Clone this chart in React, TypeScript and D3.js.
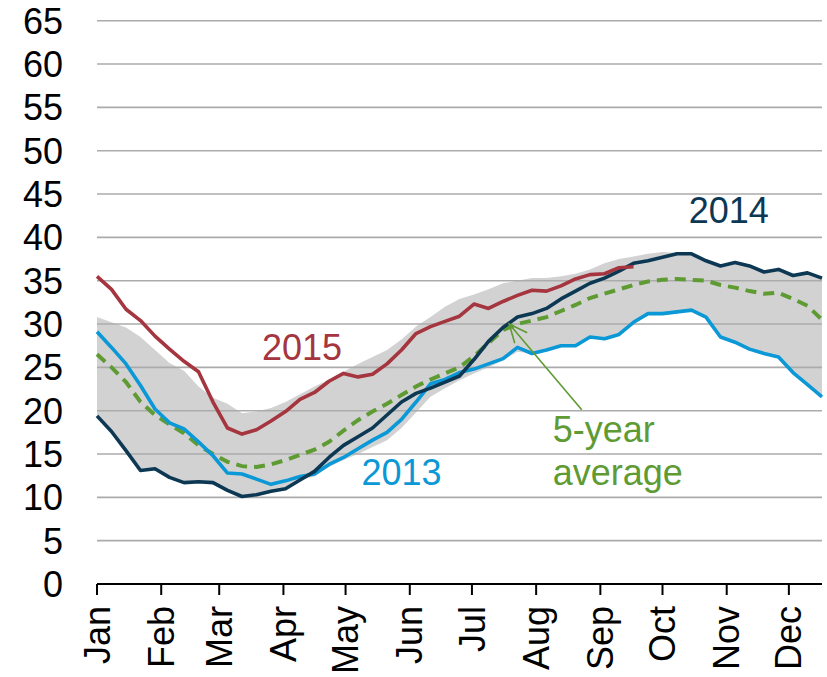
import * as d3 from "d3";

// weekly points, week 0 = Jan 1
const weekCount = 51;
const year2013 = [
  29.1, 27.3, 25.4, 22.9, 20.2, 18.6, 17.9, 16.4, 14.8, 12.8, 12.7, 12.1, 11.5, 11.9, 12.4, 12.7,
  13.8, 14.6, 15.6, 16.6, 17.5, 19.0, 21.0, 23.1, 23.6, 24.4, 24.8, 25.4, 26.0, 27.3, 26.6, 27.0,
  27.5, 27.5, 28.5, 28.3, 28.8, 30.2, 31.2, 31.2, 31.4, 31.6, 30.8, 28.5, 27.9, 27.1, 26.6, 26.2,
  24.4, 23.0, 21.6,
];
const year2014 = [
  19.4, 17.6, 15.4, 13.1, 13.3, 12.3, 11.7, 11.8, 11.7, 10.8, 10.1, 10.3, 10.7, 11.0, 12.0, 13.0,
  14.6, 16.0, 17.0, 18.0, 19.5, 21.0, 22.0, 22.6, 23.3, 24.0, 25.9, 28.0, 29.6, 30.8, 31.2, 31.8,
  32.9, 33.8, 34.7, 35.3, 36.1, 37.0, 37.3, 37.7, 38.1, 38.1, 37.3, 36.7, 37.1, 36.7, 36.0, 36.3,
  35.6, 35.9, 35.3,
];
const year2015 = [
  35.5, 34.0, 31.7, 30.4, 28.6, 27.1, 25.7, 24.5, 21.0, 18.0, 17.3, 17.8, 18.8, 19.9, 21.3, 22.1,
  23.4, 24.3, 23.9, 24.2, 25.4, 27.0, 28.9, 29.7, 30.3, 30.9, 32.3, 31.8, 32.6, 33.3, 33.9, 33.8,
  34.4, 35.2, 35.7, 35.8, 36.5, 36.6,
];
const fiveYearAvg = [
  26.5, 25.0, 23.3, 21.0, 19.5, 18.4, 17.4, 16.0, 15.0, 14.1, 13.6, 13.5, 13.8, 14.3, 14.9, 15.5,
  16.4, 17.7, 18.9, 19.9, 20.8, 21.8, 22.8, 23.6, 24.3, 25.0, 26.3, 27.8, 29.3, 30.0, 30.4, 30.8,
  31.5, 32.2, 33.0, 33.5, 34.0, 34.5, 34.9, 35.1, 35.2, 35.1, 35.0, 34.5, 34.2, 33.8, 33.5, 33.6,
  32.9, 32.1, 30.5,
];
const rangeHigh = [
  30.8, 30.2, 29.6, 28.5, 27.0, 25.5, 24.6, 22.8, 21.5, 20.8, 19.7, 19.9, 20.3, 21.0, 21.9, 22.8,
  23.6, 24.5, 25.4, 26.2, 27.0, 28.2, 29.7, 30.8, 32.0, 32.9, 33.4, 34.0, 34.7, 35.0, 35.3, 35.3,
  35.5, 35.8, 36.3, 37.0, 37.5, 37.8, 38.1, 38.3, 38.2, 38.1, 37.4, 36.7, 37.1, 36.8, 36.0, 36.3,
  35.6, 35.9, 35.3,
];
const rangeLow = [
  19.4, 17.6, 15.4, 13.1, 13.3, 12.3, 11.7, 11.8, 11.7, 10.8, 10.1, 10.3, 10.7, 11.0, 12.0, 12.4,
  13.5, 14.3, 15.0, 15.8, 16.6, 18.0, 19.8, 21.6, 22.6, 23.5, 24.3, 25.0, 25.8, 26.8, 26.6, 27.0,
  27.5, 27.5, 28.5, 28.3, 28.8, 30.2, 31.2, 31.2, 31.4, 31.6, 30.8, 28.5, 27.9, 27.1, 26.6, 26.2,
  24.4, 23.0, 21.6,
];
const monthLabels = ["Jan", "Feb", "Mar", "Apr", "May", "Jun", "Jul", "Aug", "Sep", "Oct", "Nov", "Dec"];
const yTicks = [0, 5, 10, 15, 20, 25, 30, 35, 40, 45, 50, 55, 60, 65];

const W = 827;
const H = 677;
const FONT = "'Liberation Sans', Arial, Helvetica, sans-serif";
const C = {
  y2013: "#0A98D6",
  y2014: "#0C3854",
  y2015: "#A5353F",
  avg: "#5E9B33",
  band: "#D2D2D2",
  grid: "#ABABAB",
};

const weekDate = (i: number) => new Date(2014, 0, 1 + 7 * i);

export default function App() {
  const x = d3
    .scaleTime()
    .domain([new Date(2014, 0, 1), new Date(2014, 11, 17)])
    .range([97, 822]);
  const y = d3.scaleLinear().domain([0, 65]).range([584, 20.7]);

  const line = d3
    .line<number>()
    .x((_, i) => x(weekDate(i)))
    .y((d) => y(d));
  const band = d3
    .area<number>()
    .x((_, i) => x(weekDate(i)))
    .y0((_, i) => y(rangeLow[i]))
    .y1((d) => y(d));

  const monthTicks = monthLabels.map((m, i) => ({ m, d: new Date(2014, i, 1) }));

  // annotation arrow, tip on the average line
  const tip: [number, number] = [x(new Date(2014, 6, 19)), y(30.0)];
  const tail: [number, number] = [x(new Date(2014, 7, 23)), y(20.1)];
  const ang = Math.atan2(tail[1] - tip[1], tail[0] - tip[0]);
  const head = 20;
  const spread = 0.42;
  const h1 = [tip[0] + head * Math.cos(ang - spread), tip[1] + head * Math.sin(ang - spread)];
  const h2 = [tip[0] + head * Math.cos(ang + spread), tip[1] + head * Math.sin(ang + spread)];

  return (
    <svg
      width={W}
      height={H}
      style={{ position: "absolute", left: 0, top: 0, background: "#fff" }}
      fontFamily={FONT}
    >
      <path d={band(rangeHigh.slice(0, weekCount)) ?? ""} fill={C.band} />

      {yTicks.slice(1).map((t) => (
        <line key={t} x1={97} x2={822} y1={y(t)} y2={y(t)} stroke={C.grid} strokeWidth={1.6} />
      ))}

      {yTicks.map((t) => (
        <text key={t} x={63} y={y(t)} dy="0.36em" textAnchor="end" fontSize={36} fill="#000">
          {t}
        </text>
      ))}

      <path d={line(fiveYearAvg) ?? ""} fill="none" stroke={C.avg} strokeWidth={4} strokeDasharray="11 7" />
      <path d={line(year2013) ?? ""} fill="none" stroke={C.y2013} strokeWidth={3.6} strokeLinejoin="round" />
      <path d={line(year2014) ?? ""} fill="none" stroke={C.y2014} strokeWidth={3.6} strokeLinejoin="round" />
      <path d={line(year2015) ?? ""} fill="none" stroke={C.y2015} strokeWidth={3.6} strokeLinejoin="round" />

      {/* x axis */}
      <line x1={97} x2={822} y1={584} y2={584} stroke="#000" strokeWidth={2.2} />
      {monthTicks.map(({ m, d }) => (
        <g key={m} transform={`translate(${x(d)},0)`}>
          <line y1={584} y2={595} stroke="#000" strokeWidth={2} />
          <text
            transform="translate(0,606) rotate(-90)"
            dy="0.35em"
            textAnchor="end"
            fontSize={36}
            fill="#000"
          >
            {m}
          </text>
        </g>
      ))}

      {/* labels */}
      <text x={x(new Date(2014, 3, 10))} y={y(25.85)} textAnchor="middle" fontSize={36} fill={C.y2015}>
        2015
      </text>
      <text x={x(new Date(2014, 4, 28))} y={y(11.4)} textAnchor="middle" fontSize={36} fill={C.y2013}>
        2013
      </text>
      <text x={x(new Date(2014, 10, 2))} y={y(41.7)} textAnchor="middle" fontSize={36} fill={C.y2014}>
        2014
      </text>
      <text x={x(new Date(2014, 7, 9))} y={y(16.4)} fontSize={36} fill={C.avg}>
        5-year
      </text>
      <text x={x(new Date(2014, 7, 9))} y={y(11.4)} fontSize={36} fill={C.avg}>
        average
      </text>

      <line x1={tail[0]} y1={tail[1]} x2={tip[0]} y2={tip[1]} stroke={C.avg} strokeWidth={1.6} />
      <polyline
        points={`${h1[0]},${h1[1]} ${tip[0]},${tip[1]} ${h2[0]},${h2[1]}`}
        fill="none"
        stroke={C.avg}
        strokeWidth={1.6}
      />
    </svg>
  );
}
